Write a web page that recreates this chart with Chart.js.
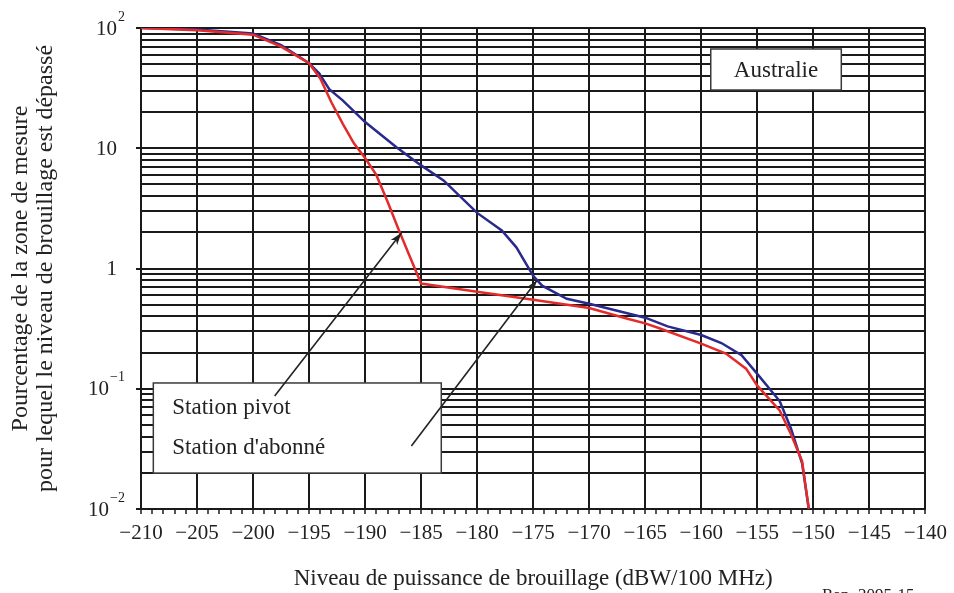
<!DOCTYPE html>
<html lang="fr">
<head>
<meta charset="UTF-8">
<title>Australie - niveau de brouillage</title>
<script src="https://cdn.jsdelivr.net/npm/chart.js"></script>
<style>
  body { margin: 0; background: #fff; }
  #wrap { width: 954px; height: 593px; }
</style>
</head>
<body>
<div id="wrap"><canvas id="chart" width="954" height="593"></canvas></div>
<script>
// valeurs (dBW/100 MHz, % de la zone)
const pivotX = [-210, -205, -200, -197.5, -195, -194, -193, -192, -191, -190, -189, -188, -187, -186, -185,
  -180, -175, -170, -166.5, -165, -163.8, -160, -157.8, -156, -155, -153, -152, -151, -150.4];
const pivotY = [100, 96, 88, 70, 51, 38, 24, 16, 11, 8.3, 6.0, 3.6, 2.1, 1.25, 0.75,
  0.64, 0.55, 0.47, 0.38, 0.35, 0.32, 0.237, 0.196, 0.147, 0.106, 0.066, 0.042, 0.025, 0.01];

const abonneX = [-210, -205, -200, -197.5, -195, -194.1, -193.2, -192, -190, -187.2, -185, -183, -180, -177.8,
  -176.5, -175, -174.2, -172, -170, -165, -163, -160, -158.2, -156.4, -155, -153, -152, -151, -150.4];
const abonneY = [100, 97, 90, 72, 51, 42, 31, 25, 16.5, 10.2, 7.2, 5.4, 2.9, 2.07,
  1.5, 0.87, 0.72, 0.56, 0.51, 0.39, 0.33, 0.28, 0.24, 0.19, 0.133, 0.079, 0.047, 0.024, 0.01];

const xMin = -210, xMax = -140;
const yMajor = [0.01, 0.1, 1, 10, 100];
const yMajorBase = ['10', '10', '1', '10', '10'];
const yMajorExp = ['\u22122', '\u22121', '', '', '2'];

const serif = '"Liberation Serif", "Times New Roman", serif';
const ink = '#1a1a1a';

// lignes de grille : 1..9 par décade
function logTicks() {
  const out = [];
  for (let d = 0; d < yMajor.length - 1; d++) {
    for (let m = 1; m < 10; m++) out.push({ value: +(m * yMajor[d]).toPrecision(3) });
  }
  out.push({ value: yMajor[yMajor.length - 1] });
  return out;
}
function isMajorY(v) {
  return yMajor.some(m => Math.abs(v - m) / m < 1e-6);
}

function arrow(ctx, x1, y1, x2, y2) {
  ctx.beginPath();
  ctx.moveTo(x1, y1);
  ctx.lineTo(x2, y2);
  ctx.stroke();
  const a = Math.atan2(y2 - y1, x2 - x1);
  ctx.beginPath();
  ctx.moveTo(x2, y2);
  ctx.lineTo(x2 - 13 * Math.cos(a - 0.32), y2 - 13 * Math.sin(a - 0.32));
  ctx.lineTo(x2 - 9 * Math.cos(a), y2 - 9 * Math.sin(a));
  ctx.lineTo(x2 - 13 * Math.cos(a + 0.32), y2 - 13 * Math.sin(a + 0.32));
  ctx.closePath();
  ctx.fill();
}

function box(ctx, l, t, r, b) {
  ctx.fillStyle = '#fff';
  ctx.fillRect(l, t, r - l, b - t);
  ctx.strokeStyle = '#3a3a3a';
  ctx.lineWidth = 1.5;
  ctx.strokeRect(l, t, r - l, b - t);
}

const notes = {
  id: 'notes',
  afterDatasetsDraw(chart) {
    const { ctx, scales: { x, y } } = chart;
    ctx.save();
    ctx.font = '23px ' + serif;
    ctx.textBaseline = 'middle';

    // Australie
    const al = x.getPixelForValue(-159.15), ar = x.getPixelForValue(-147.5);
    const at = y.getPixelForValue(66.9), ab = y.getPixelForValue(30.5);
    box(ctx, al, at, ar, ab);
    ctx.fillStyle = '#222';
    ctx.textAlign = 'center';
    ctx.fillText('Australie', (al + ar) / 2, (at + ab) / 2 + 1);

    // cadre des stations
    const bl = x.getPixelForValue(-208.9), br = x.getPixelForValue(-183.2);
    const bt = y.getPixelForValue(0.1117), bb = y.getPixelForValue(0.0199);
    box(ctx, bl, bt, br, bb);
    ctx.fillStyle = '#222';
    ctx.textAlign = 'left';
    ctx.fillText('Station pivot', bl + 19, bt + 25);
    ctx.fillText("Station d'abonné", bl + 19, bt + 65);

    ctx.strokeStyle = '#222';
    ctx.fillStyle = '#222';
    ctx.lineWidth = 1.6;
    arrow(ctx, x.getPixelForValue(-198.07), y.getPixelForValue(0.087),
      x.getPixelForValue(-186.75), y.getPixelForValue(1.98));
    arrow(ctx, x.getPixelForValue(-185.87), y.getPixelForValue(0.0334),
      x.getPixelForValue(-174.65), y.getPixelForValue(0.80));
    ctx.restore();
  },
  afterDraw(chart) {
    const { ctx, scales: { y } } = chart;
    ctx.save();
    ctx.fillStyle = '#222';
    ctx.textBaseline = 'middle';
    ctx.textAlign = 'right';
    // étiquettes de l'axe y avec exposant
    const right = y.right - 24;
    yMajor.forEach((v, i) => {
      const py = y.getPixelForValue(v);
      ctx.font = '14px ' + serif;
      const ew = yMajorExp[i] ? ctx.measureText(yMajorExp[i]).width + 1 : 0;
      const baseRight = yMajorExp[i] ? right + 8 - ew : right;
      if (yMajorExp[i]) ctx.fillText(yMajorExp[i], right + 8, py - 11);
      ctx.font = '21px ' + serif;
      ctx.fillText(yMajorBase[i], baseRight, py + 1);
    });

    ctx.font = '17px ' + serif;
    ctx.textAlign = 'left';
    ctx.textBaseline = 'top';
    ctx.fillText('Rap  2095-15', 822, 587);
    ctx.restore();
  }
};

new Chart(document.getElementById('chart'), {
  type: 'line',
  data: {
    datasets: [
      {
        label: 'Station pivot',
        data: pivotX.map((v, i) => ({ x: v, y: pivotY[i] })),
        borderColor: '#e42b2b',
        borderWidth: 2.5,
        pointRadius: 0,
        tension: 0
      },
      {
        label: "Station d'abonné",
        data: abonneX.map((v, i) => ({ x: v, y: abonneY[i] })),
        borderColor: '#2a2a8c',
        borderWidth: 2.5,
        pointRadius: 0,
        tension: 0
      }
    ]
  },
  options: {
    responsive: false,
    animation: false,
    layout: { padding: { top: 28, right: 27, left: 0, bottom: 0 } },
    plugins: {
      legend: { display: false },
      tooltip: { enabled: false }
    },
    scales: {
      x: {
        type: 'linear',
        min: xMin,
        max: xMax,
        afterFit: s => { s.height = 84; },
        ticks: {
          stepSize: 1,
          autoSkip: false,
          maxRotation: 0,
          minRotation: 0,
          padding: 7,
          color: '#222',
          font: { family: serif, size: 21 },
          callback: v => (v % 5 === 0 ? '\u2212' + Math.abs(v) : '')
        },
        grid: {
          color: c => (c.tick && c.tick.value % 5 === 0 ? ink : 'rgba(0,0,0,0)'),
          lineWidth: 2,
          tickColor: ink,
          tickLength: 5,
          tickWidth: 1.5
        },
        border: { color: ink, width: 2 },
        title: {
          display: true,
          text: 'Niveau de puissance de brouillage (dBW/100 MHz)',
          color: '#222',
          font: { family: serif, size: 23, lineHeight: 1.2 },
          padding: { top: 0, bottom: 0 }
        }
      },
      y: {
        type: 'logarithmic',
        min: 0.01,
        max: 100,
        afterFit: s => { s.width = 141; },
        afterBuildTicks: s => { s.ticks = logTicks(); },
        ticks: {
          display: false,
          autoSkip: false
        },
        grid: {
          color: ink,
          lineWidth: 2,
          tickColor: c => (c.tick && isMajorY(c.tick.value) ? ink : 'rgba(0,0,0,0)'),
          tickLength: 5
        },
        border: { color: ink, width: 2 },
        title: {
          display: true,
          text: ['Pourcentage de la zone de mesure', 'pour lequel le niveau de brouillage est dépassé'],
          color: '#222',
          font: { family: serif, size: 24, lineHeight: 25 / 24 },
          padding: { top: 8.5, bottom: 0 }
        }
      }
    }
  },
  plugins: [notes]
});
</script>
</body>
</html>
